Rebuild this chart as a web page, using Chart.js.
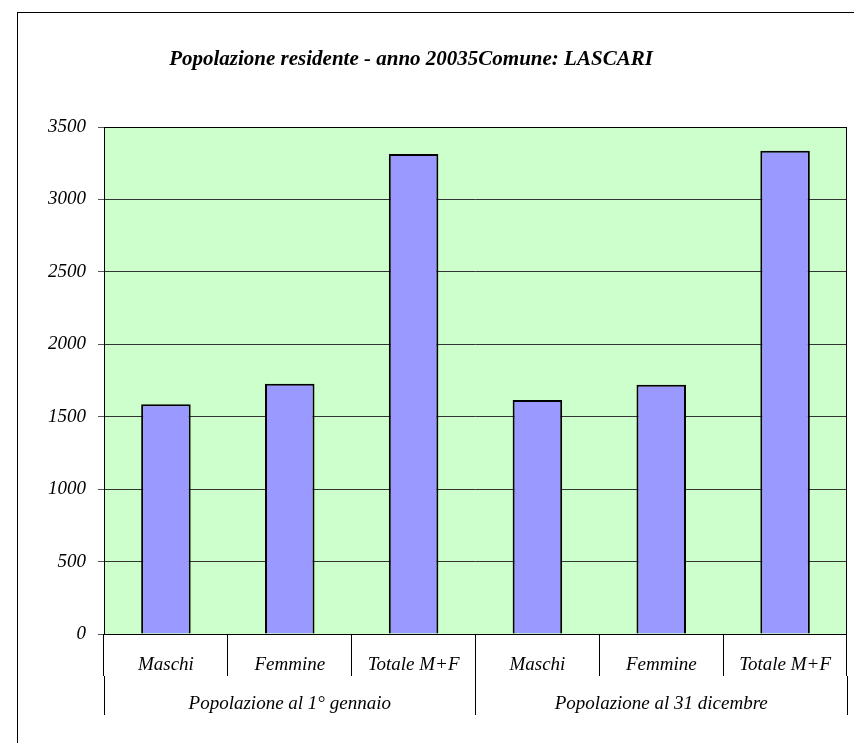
<!DOCTYPE html>
<html>
<head>
<meta charset="utf-8">
<script src="https://cdn.jsdelivr.net/npm/chart.js@4"></script>
<style>
  html, body { margin: 0; padding: 0; background: #ffffff; }
  #wrap { width: 854px; height: 743px; position: relative; }
</style>
</head>
<body>
<div id="wrap"><canvas id="c" width="854" height="743"></canvas></div>
<script>
const titleText = 'Popolazione residente - anno 20035Comune: LASCARI';
const categories = ['Maschi', 'Femmine', 'Totale M+F', 'Maschi', 'Femmine', 'Totale M+F'];
const groups = ['Popolazione al 1° gennaio', 'Popolazione al 31 dicembre'];
const values = [1586, 1727, 3313, 1615, 1721, 3336];
const yMin = 0, yMax = 3500, yStep = 500;

const FONT = '"Liberation Serif", "Times New Roman", serif';

const decor = {
  id: 'decor',
  beforeDraw(chart) {
    const ctx = chart.ctx;
    const a = chart.chartArea;
    ctx.save();
    ctx.fillStyle = '#ffffff';
    ctx.fillRect(0, 0, chart.width, chart.height);
    ctx.strokeStyle = '#000000';
    ctx.lineWidth = 1;
    ctx.strokeRect(17.5, 12.5, 1000, 1000);
    ctx.fillStyle = '#CCFFCC';
    ctx.fillRect(a.left, a.top, a.right - a.left, a.bottom - a.top);
    ctx.restore();
  },
  afterDraw(chart) {
    const ctx = chart.ctx;
    const a = chart.chartArea;
    ctx.save();
    ctx.strokeStyle = '#000000';
    ctx.lineWidth = 1;
    ctx.strokeRect(Math.round(a.left) + 0.5, Math.round(a.top) + 0.5,
                   Math.round(a.right - a.left) - 1, Math.round(a.bottom - a.top));
    ctx.fillStyle = '#000000';
    ctx.font = 'italic bold 21px ' + FONT;
    ctx.textAlign = 'center';
    ctx.textBaseline = 'middle';
    ctx.fillText(titleText, 411, 60);
    ctx.restore();
  }
};

new Chart(document.getElementById('c'), {
  type: 'bar',
  data: {
    labels: categories,
    datasets: [{
      data: values,
      backgroundColor: '#9999FF',
      borderColor: '#000000',
      borderWidth: 2,
      barPercentage: 0.4,
      categoryPercentage: 1.0
    }]
  },
  options: {
    responsive: false,
    animation: false,
    layout: { padding: { left: 0, right: 7, top: 127, bottom: 22 } },
    plugins: { legend: { display: false }, tooltip: { enabled: false }, title: { display: false } },
    scales: {
      y: {
        min: yMin, max: yMax,
        ticks: { stepSize: yStep, color: '#000000', padding: 12,
                 callback: (v) => String(v),
                 font: { family: FONT, size: 19, style: 'italic' } },
        grid: { color: '#333333', lineWidth: 1, tickLength: 6, tickColor: '#555555' },
        border: { display: false },
        afterFit(s) { s.width = 104; }
      },
      x: {
        type: 'category',
        offset: true,
        weight: 0,
        grid: { offset: true, drawOnChartArea: false, drawTicks: true, tickLength: 42, color: '#000000', lineWidth: 1 },
        border: { display: false },
        ticks: { color: '#000000', padding: -22, maxRotation: 0, autoSkip: false,
                 font: { family: FONT, size: 19, style: 'italic' } },
        afterFit(s) { s.height = 42; }
      },
      x2: {
        type: 'category',
        labels: groups,
        position: 'bottom',
        offset: true,
        weight: 1,
        grid: { offset: true, drawOnChartArea: false, drawTicks: true, tickLength: 39, color: '#000000', lineWidth: 1 },
        border: { display: false },
        ticks: { color: '#000000', padding: -22, maxRotation: 0, autoSkip: false,
                 font: { family: FONT, size: 19, style: 'italic' } },
        afterFit(s) { s.height = 45; }
      }
    }
  },
  plugins: [decor]
});
</script>
</body>
</html>
